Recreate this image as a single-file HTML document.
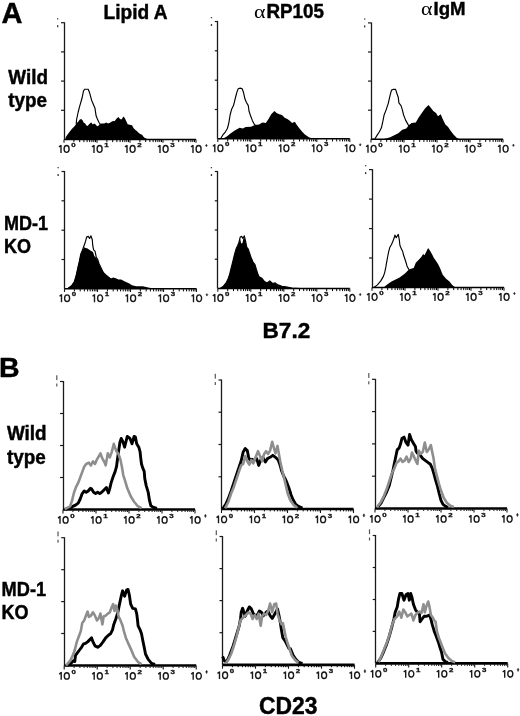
<!DOCTYPE html><html><head><meta charset="utf-8"><style>
html,body{margin:0;padding:0;background:#fff;width:520px;height:716px;overflow:hidden}
svg{display:block;will-change:transform}
text{font-family:"Liberation Sans",sans-serif}
.b{font-weight:bold;fill:#000;stroke:#000;stroke-width:0.45}
.ax{font-size:11.8px;fill:#1a1a1a;stroke:#1a1a1a;stroke-width:0.25}
.sup{font-size:6.2px;font-weight:bold;fill:#111;stroke:#111;stroke-width:0.3}
.g{font-family:"Liberation Serif",serif;fill:#000}
</style></head><body>
<svg width="520" height="716" viewBox="0 0 520 716">
<line x1="64.5" y1="22.2" x2="64.5" y2="139.5" stroke="#1a1a1a" stroke-width="1.3"/>
<line x1="61" y1="22.7" x2="64" y2="22.7" stroke="#1a1a1a" stroke-width="1.2"/>
<line x1="61" y1="51.9" x2="64" y2="51.9" stroke="#1a1a1a" stroke-width="1.2"/>
<line x1="61" y1="81.1" x2="64" y2="81.1" stroke="#1a1a1a" stroke-width="1.2"/>
<line x1="61" y1="110.3" x2="64" y2="110.3" stroke="#1a1a1a" stroke-width="1.2"/>
<line x1="64" y1="139.5" x2="196.0" y2="139.5" stroke="#000" stroke-width="1.4"/>
<path d="M73.9,139.9v2.2 M79.7,139.9v2.2 M83.9,139.9v2.2 M87.1,139.9v2.2 M89.7,139.9v2.2 M91.9,139.9v2.2 M93.8,139.9v2.2 M95.5,139.9v2.2 M106.9,139.9v2.2 M112.7,139.9v2.2 M116.9,139.9v2.2 M120.1,139.9v2.2 M122.7,139.9v2.2 M124.9,139.9v2.2 M126.8,139.9v2.2 M128.5,139.9v2.2 M139.9,139.9v2.2 M145.7,139.9v2.2 M149.9,139.9v2.2 M153.1,139.9v2.2 M155.7,139.9v2.2 M157.9,139.9v2.2 M159.8,139.9v2.2 M161.5,139.9v2.2 M172.9,139.9v2.2 M178.7,139.9v2.2 M182.9,139.9v2.2 M186.1,139.9v2.2 M188.7,139.9v2.2 M190.9,139.9v2.2 M192.8,139.9v2.2 M194.5,139.9v2.2" stroke="#000" stroke-width="1.0" fill="none"/>
<path d="M64.0,139.5v3.3 M97.0,139.5v3.3 M130.0,139.5v3.3 M163.0,139.5v3.3 M196.0,139.5v3.3" stroke="#1a1a1a" stroke-width="1.1" fill="none"/>
<text x="71.3" y="146.8" class="sup" textLength="4.4" lengthAdjust="spacingAndGlyphs">0</text>
<text x="104.3" y="146.8" class="sup" textLength="4.4" lengthAdjust="spacingAndGlyphs">1</text>
<text x="137.3" y="146.8" class="sup" textLength="4.4" lengthAdjust="spacingAndGlyphs">2</text>
<text x="170.3" y="146.8" class="sup" textLength="4.4" lengthAdjust="spacingAndGlyphs">3</text>
<path d="M206.4,144.3l0.9,1.1l-0.9,1.4l-0.9,-1.4z" fill="#222" stroke="#222" stroke-width="0.5"/>
<path d="M61.00,144.90V153.00M61.30,145.20L59.00,146.90 M64.10,148.95a2.5,3.3999999999999972 0 1,0 5.00,0a2.5,3.3999999999999972 0 1,0 -5.00,0 M94.00,144.90V153.00M94.30,145.20L92.00,146.90 M97.10,148.95a2.5,3.3999999999999972 0 1,0 5.00,0a2.5,3.3999999999999972 0 1,0 -5.00,0 M127.00,144.90V153.00M127.30,145.20L125.00,146.90 M130.10,148.95a2.5,3.3999999999999972 0 1,0 5.00,0a2.5,3.3999999999999972 0 1,0 -5.00,0 M160.00,144.90V153.00M160.30,145.20L158.00,146.90 M163.10,148.95a2.5,3.3999999999999972 0 1,0 5.00,0a2.5,3.3999999999999972 0 1,0 -5.00,0 M193.00,144.90V153.00M193.30,145.20L191.00,146.90 M196.10,148.95a2.5,3.3999999999999972 0 1,0 5.00,0a2.5,3.3999999999999972 0 1,0 -5.00,0" stroke="#1a1a1a" stroke-width="1.4" fill="none"/>
<rect x="57" y="18.2" width="1.3" height="1.3" fill="#444"/>
<rect x="57" y="25.2" width="1.3" height="2" fill="#333"/>
<polygon points="65.4,139.5 65.4,139.5 65.8,136.9 68.7,133.1 71.6,129.2 74.5,126.3 76.4,123.5 78.3,121.5 79.8,119.6 81.2,119.1 82.7,120.6 83.6,122.5 85.1,123.5 86.5,125.4 87.5,125.9 88.9,124.4 90.4,123.0 91.3,122.5 92.8,124.4 94.2,123.5 95.7,124.4 97.1,126.3 98.1,125.9 99.5,124.4 101.4,123.5 104.3,123.5 106.2,122.5 108.0,123.5 109.9,122.8 112.3,121.3 114.7,120.9 116.7,118.5 118.4,117.0 120.0,118.9 121.5,119.4 123.4,116.5 124.8,118.0 126.3,121.3 127.7,124.2 129.6,124.7 132.0,125.2 133.5,128.1 134.9,129.5 136.8,131.0 138.8,132.9 140.7,134.3 142.1,134.8 143.1,136.3 144.5,137.7 146.5,138.7 148.4,139.4 149.5,139.5 149.5,139.5" fill="#000"/>
<polyline points="76.2,124.0 76.6,119.5 78.2,112.0 79.5,106.9 82.2,97.5 83.5,90.8 84.9,89.2 88.2,89.2 89.6,92.8 91.6,100.2 93.6,104.9 95.0,108.3 96.1,115.8 97.6,119.6 99.0,122.5 100.0,124.0 102.0,126.0 110.0,130.0 130.0,137.0 140.0,139.5" fill="none" stroke="#000" stroke-width="1.15" stroke-linejoin="round"/>
<line x1="217.5" y1="21.0" x2="217.5" y2="138.8" stroke="#1a1a1a" stroke-width="1.3"/>
<line x1="214.8" y1="21.5" x2="217.8" y2="21.5" stroke="#1a1a1a" stroke-width="1.2"/>
<line x1="214.8" y1="50.8" x2="217.8" y2="50.8" stroke="#1a1a1a" stroke-width="1.2"/>
<line x1="214.8" y1="80.2" x2="217.8" y2="80.2" stroke="#1a1a1a" stroke-width="1.2"/>
<line x1="214.8" y1="109.5" x2="217.8" y2="109.5" stroke="#1a1a1a" stroke-width="1.2"/>
<line x1="217.8" y1="138.8" x2="349.8" y2="138.8" stroke="#000" stroke-width="1.4"/>
<path d="M227.7,139.2v2.2 M233.5,139.2v2.2 M237.7,139.2v2.2 M240.9,139.2v2.2 M243.5,139.2v2.2 M245.7,139.2v2.2 M247.6,139.2v2.2 M249.3,139.2v2.2 M260.7,139.2v2.2 M266.5,139.2v2.2 M270.7,139.2v2.2 M273.9,139.2v2.2 M276.5,139.2v2.2 M278.7,139.2v2.2 M280.6,139.2v2.2 M282.3,139.2v2.2 M293.7,139.2v2.2 M299.5,139.2v2.2 M303.7,139.2v2.2 M306.9,139.2v2.2 M309.5,139.2v2.2 M311.7,139.2v2.2 M313.6,139.2v2.2 M315.3,139.2v2.2 M326.7,139.2v2.2 M332.5,139.2v2.2 M336.7,139.2v2.2 M339.9,139.2v2.2 M342.5,139.2v2.2 M344.7,139.2v2.2 M346.6,139.2v2.2 M348.3,139.2v2.2" stroke="#000" stroke-width="1.0" fill="none"/>
<path d="M217.8,138.8v3.3 M250.8,138.8v3.3 M283.8,138.8v3.3 M316.8,138.8v3.3 M349.8,138.8v3.3" stroke="#1a1a1a" stroke-width="1.1" fill="none"/>
<text x="225.1" y="146.1" class="sup" textLength="4.4" lengthAdjust="spacingAndGlyphs">0</text>
<text x="258.1" y="146.1" class="sup" textLength="4.4" lengthAdjust="spacingAndGlyphs">1</text>
<text x="291.1" y="146.1" class="sup" textLength="4.4" lengthAdjust="spacingAndGlyphs">2</text>
<text x="324.1" y="146.1" class="sup" textLength="4.4" lengthAdjust="spacingAndGlyphs">3</text>
<path d="M360.2,143.6l0.9,1.1l-0.9,1.4l-0.9,-1.4z" fill="#222" stroke="#222" stroke-width="0.5"/>
<path d="M214.80,144.20V152.30M215.10,144.50L212.80,146.20 M217.90,148.25a2.5,3.3999999999999972 0 1,0 5.00,0a2.5,3.3999999999999972 0 1,0 -5.00,0 M247.80,144.20V152.30M248.10,144.50L245.80,146.20 M250.90,148.25a2.5,3.3999999999999972 0 1,0 5.00,0a2.5,3.3999999999999972 0 1,0 -5.00,0 M280.80,144.20V152.30M281.10,144.50L278.80,146.20 M283.90,148.25a2.5,3.3999999999999972 0 1,0 5.00,0a2.5,3.3999999999999972 0 1,0 -5.00,0 M313.80,144.20V152.30M314.10,144.50L311.80,146.20 M316.90,148.25a2.5,3.3999999999999972 0 1,0 5.00,0a2.5,3.3999999999999972 0 1,0 -5.00,0 M346.80,144.20V152.30M347.10,144.50L344.80,146.20 M349.90,148.25a2.5,3.3999999999999972 0 1,0 5.00,0a2.5,3.3999999999999972 0 1,0 -5.00,0" stroke="#1a1a1a" stroke-width="1.4" fill="none"/>
<rect x="210.8" y="17.0" width="1.3" height="1.3" fill="#444"/>
<rect x="210.8" y="24.0" width="1.3" height="2" fill="#333"/>
<polygon points="222.7,138.8 222.7,138.8 226.8,136.5 230.8,133.2 234.8,130.5 239.6,127.8 242.9,128.5 245.6,127.1 251.0,126.8 255.0,125.1 259.1,124.4 262.4,122.4 265.8,123.1 268.5,119.0 271.2,114.3 274.5,111.0 276.6,113.0 279.3,114.3 282.0,115.0 284.7,117.7 287.4,119.0 290.1,121.0 292.1,123.1 294.8,121.7 296.8,125.1 299.5,128.5 302.2,131.8 304.9,134.5 308.9,137.2 313.0,138.8 313.0,138.8" fill="#000"/>
<polyline points="219.0,138.8 220.7,138.5 222.7,135.2 225.4,131.8 227.4,128.5 228.8,123.1 230.1,115.0 231.5,109.6 233.5,105.6 235.5,97.5 236.9,92.1 238.2,88.7 240.2,88.1 242.2,88.7 243.6,92.8 244.9,98.8 246.3,102.2 248.3,105.6 249.0,111.0 250.3,115.0 252.3,120.4 254.4,124.4 256.0,126.0 262.0,130.0 280.0,136.0 300.0,138.8" fill="none" stroke="#000" stroke-width="1.15" stroke-linejoin="round"/>
<line x1="371.5" y1="22.4" x2="371.5" y2="139.3" stroke="#1a1a1a" stroke-width="1.3"/>
<line x1="368" y1="22.9" x2="371" y2="22.9" stroke="#1a1a1a" stroke-width="1.2"/>
<line x1="368" y1="52.0" x2="371" y2="52.0" stroke="#1a1a1a" stroke-width="1.2"/>
<line x1="368" y1="81.1" x2="371" y2="81.1" stroke="#1a1a1a" stroke-width="1.2"/>
<line x1="368" y1="110.2" x2="371" y2="110.2" stroke="#1a1a1a" stroke-width="1.2"/>
<line x1="371" y1="139.3" x2="503.0" y2="139.3" stroke="#000" stroke-width="1.4"/>
<path d="M380.9,139.7v2.2 M386.7,139.7v2.2 M390.9,139.7v2.2 M394.1,139.7v2.2 M396.7,139.7v2.2 M398.9,139.7v2.2 M400.8,139.7v2.2 M402.5,139.7v2.2 M413.9,139.7v2.2 M419.7,139.7v2.2 M423.9,139.7v2.2 M427.1,139.7v2.2 M429.7,139.7v2.2 M431.9,139.7v2.2 M433.8,139.7v2.2 M435.5,139.7v2.2 M446.9,139.7v2.2 M452.7,139.7v2.2 M456.9,139.7v2.2 M460.1,139.7v2.2 M462.7,139.7v2.2 M464.9,139.7v2.2 M466.8,139.7v2.2 M468.5,139.7v2.2 M479.9,139.7v2.2 M485.7,139.7v2.2 M489.9,139.7v2.2 M493.1,139.7v2.2 M495.7,139.7v2.2 M497.9,139.7v2.2 M499.8,139.7v2.2 M501.5,139.7v2.2" stroke="#000" stroke-width="1.0" fill="none"/>
<path d="M371.0,139.3v3.3 M404.0,139.3v3.3 M437.0,139.3v3.3 M470.0,139.3v3.3 M503.0,139.3v3.3" stroke="#1a1a1a" stroke-width="1.1" fill="none"/>
<text x="378.3" y="146.6" class="sup" textLength="4.4" lengthAdjust="spacingAndGlyphs">0</text>
<text x="411.3" y="146.6" class="sup" textLength="4.4" lengthAdjust="spacingAndGlyphs">1</text>
<text x="444.3" y="146.6" class="sup" textLength="4.4" lengthAdjust="spacingAndGlyphs">2</text>
<text x="477.3" y="146.6" class="sup" textLength="4.4" lengthAdjust="spacingAndGlyphs">3</text>
<path d="M513.4,144.1l0.9,1.1l-0.9,1.4l-0.9,-1.4z" fill="#222" stroke="#222" stroke-width="0.5"/>
<path d="M368.00,144.70V152.80M368.30,145.00L366.00,146.70 M371.10,148.75a2.5,3.3999999999999972 0 1,0 5.00,0a2.5,3.3999999999999972 0 1,0 -5.00,0 M401.00,144.70V152.80M401.30,145.00L399.00,146.70 M404.10,148.75a2.5,3.3999999999999972 0 1,0 5.00,0a2.5,3.3999999999999972 0 1,0 -5.00,0 M434.00,144.70V152.80M434.30,145.00L432.00,146.70 M437.10,148.75a2.5,3.3999999999999972 0 1,0 5.00,0a2.5,3.3999999999999972 0 1,0 -5.00,0 M467.00,144.70V152.80M467.30,145.00L465.00,146.70 M470.10,148.75a2.5,3.3999999999999972 0 1,0 5.00,0a2.5,3.3999999999999972 0 1,0 -5.00,0 M500.00,144.70V152.80M500.30,145.00L498.00,146.70 M503.10,148.75a2.5,3.3999999999999972 0 1,0 5.00,0a2.5,3.3999999999999972 0 1,0 -5.00,0" stroke="#1a1a1a" stroke-width="1.4" fill="none"/>
<rect x="364" y="18.4" width="1.3" height="1.3" fill="#444"/>
<rect x="364" y="25.4" width="1.3" height="2" fill="#333"/>
<polygon points="382.1,139.3 382.1,139.3 386.2,138.5 390.2,137.2 394.2,135.2 398.3,133.2 402.3,129.8 406.3,128.5 409.0,125.1 411.7,123.1 415.8,122.4 418.5,117.7 421.8,113.0 425.2,108.3 428.5,104.9 430.6,107.6 433.3,111.0 436.0,113.0 438.0,116.3 440.7,114.3 442.7,119.0 445.4,124.4 448.1,127.1 450.8,131.1 453.5,134.5 456.9,137.9 460.2,139.3 460.2,139.3" fill="#000"/>
<polyline points="372.0,139.3 374.7,139.2 376.7,135.9 379.4,131.8 381.4,127.8 382.8,121.7 384.1,115.0 386.2,109.6 388.2,103.6 390.2,94.8 391.5,90.1 393.6,89.2 395.6,89.4 396.9,93.5 398.3,97.5 398.9,102.9 401.0,105.6 402.3,109.6 403.6,115.0 405.7,120.4 408.4,125.1 412.0,130.0 420.0,135.0 440.0,139.3" fill="none" stroke="#000" stroke-width="1.15" stroke-linejoin="round"/>
<line x1="64.5" y1="171.0" x2="64.5" y2="288.8" stroke="#1a1a1a" stroke-width="1.3"/>
<line x1="61.5" y1="171.5" x2="64.5" y2="171.5" stroke="#1a1a1a" stroke-width="1.2"/>
<line x1="61.5" y1="200.8" x2="64.5" y2="200.8" stroke="#1a1a1a" stroke-width="1.2"/>
<line x1="61.5" y1="230.2" x2="64.5" y2="230.2" stroke="#1a1a1a" stroke-width="1.2"/>
<line x1="61.5" y1="259.5" x2="64.5" y2="259.5" stroke="#1a1a1a" stroke-width="1.2"/>
<line x1="64.5" y1="288.8" x2="196.5" y2="288.8" stroke="#000" stroke-width="1.4"/>
<path d="M74.4,289.2v2.2 M80.2,289.2v2.2 M84.4,289.2v2.2 M87.6,289.2v2.2 M90.2,289.2v2.2 M92.4,289.2v2.2 M94.3,289.2v2.2 M96.0,289.2v2.2 M107.4,289.2v2.2 M113.2,289.2v2.2 M117.4,289.2v2.2 M120.6,289.2v2.2 M123.2,289.2v2.2 M125.4,289.2v2.2 M127.3,289.2v2.2 M129.0,289.2v2.2 M140.4,289.2v2.2 M146.2,289.2v2.2 M150.4,289.2v2.2 M153.6,289.2v2.2 M156.2,289.2v2.2 M158.4,289.2v2.2 M160.3,289.2v2.2 M162.0,289.2v2.2 M173.4,289.2v2.2 M179.2,289.2v2.2 M183.4,289.2v2.2 M186.6,289.2v2.2 M189.2,289.2v2.2 M191.4,289.2v2.2 M193.3,289.2v2.2 M195.0,289.2v2.2" stroke="#000" stroke-width="1.0" fill="none"/>
<path d="M64.5,288.8v3.3 M97.5,288.8v3.3 M130.5,288.8v3.3 M163.5,288.8v3.3 M196.5,288.8v3.3" stroke="#1a1a1a" stroke-width="1.1" fill="none"/>
<text x="71.8" y="296.1" class="sup" textLength="4.4" lengthAdjust="spacingAndGlyphs">0</text>
<text x="104.8" y="296.1" class="sup" textLength="4.4" lengthAdjust="spacingAndGlyphs">1</text>
<text x="137.8" y="296.1" class="sup" textLength="4.4" lengthAdjust="spacingAndGlyphs">2</text>
<text x="170.8" y="296.1" class="sup" textLength="4.4" lengthAdjust="spacingAndGlyphs">3</text>
<path d="M206.9,293.6l0.9,1.1l-0.9,1.4l-0.9,-1.4z" fill="#222" stroke="#222" stroke-width="0.5"/>
<path d="M61.50,294.20V302.30M61.80,294.50L59.50,296.20 M64.60,298.25a2.5,3.4000000000000115 0 1,0 5.00,0a2.5,3.4000000000000115 0 1,0 -5.00,0 M94.50,294.20V302.30M94.80,294.50L92.50,296.20 M97.60,298.25a2.5,3.4000000000000115 0 1,0 5.00,0a2.5,3.4000000000000115 0 1,0 -5.00,0 M127.50,294.20V302.30M127.80,294.50L125.50,296.20 M130.60,298.25a2.5,3.4000000000000115 0 1,0 5.00,0a2.5,3.4000000000000115 0 1,0 -5.00,0 M160.50,294.20V302.30M160.80,294.50L158.50,296.20 M163.60,298.25a2.5,3.4000000000000115 0 1,0 5.00,0a2.5,3.4000000000000115 0 1,0 -5.00,0 M193.50,294.20V302.30M193.80,294.50L191.50,296.20 M196.60,298.25a2.5,3.4000000000000115 0 1,0 5.00,0a2.5,3.4000000000000115 0 1,0 -5.00,0" stroke="#1a1a1a" stroke-width="1.4" fill="none"/>
<rect x="57.5" y="167.0" width="1.3" height="1.3" fill="#444"/>
<rect x="57.5" y="174.0" width="1.3" height="2" fill="#333"/>
<polygon points="66.0,288.8 66.0,288.8 67.4,288.3 71.4,285.6 74.1,281.5 76.1,274.8 77.5,268.1 78.8,262.7 80.2,256.0 81.5,251.9 82.9,249.2 84.2,247.2 85.6,247.9 87.6,248.6 89.6,249.9 91.6,251.2 93.0,251.9 94.3,256.0 96.3,258.0 97.7,260.0 99.0,263.4 100.4,266.7 102.4,270.8 105.1,273.5 107.8,276.1 110.5,278.8 113.1,277.5 115.8,278.2 118.5,279.5 121.2,279.5 123.9,280.9 126.6,282.2 129.3,283.5 132.0,285.2 136.1,286.2 142.8,286.2 148.2,287.6 154.9,288.8 154.9,288.8" fill="#000"/>
<polyline points="67.6,288.8 71.6,285.8 74.3,281.8 76.3,275.0 77.7,268.3 79.0,263.0 80.8,253.9 82.2,250.6 84.2,245.2 85.6,241.2 86.6,237.1 88.2,236.4 89.6,238.5 90.9,235.8 92.3,239.8 92.7,245.2 93.6,249.9 95.0,251.2 95.6,253.9 96.3,257.3 97.7,259.3 99.0,263.4 104.0,274.0 115.0,282.0 130.0,287.0 140.0,288.8" fill="none" stroke="#000" stroke-width="1.15" stroke-linejoin="round"/>
<line x1="217.5" y1="171.0" x2="217.5" y2="288.5" stroke="#1a1a1a" stroke-width="1.3"/>
<line x1="214.8" y1="171.5" x2="217.8" y2="171.5" stroke="#1a1a1a" stroke-width="1.2"/>
<line x1="214.8" y1="200.8" x2="217.8" y2="200.8" stroke="#1a1a1a" stroke-width="1.2"/>
<line x1="214.8" y1="230.0" x2="217.8" y2="230.0" stroke="#1a1a1a" stroke-width="1.2"/>
<line x1="214.8" y1="259.2" x2="217.8" y2="259.2" stroke="#1a1a1a" stroke-width="1.2"/>
<line x1="217.8" y1="288.5" x2="349.8" y2="288.5" stroke="#000" stroke-width="1.4"/>
<path d="M227.7,288.9v2.2 M233.5,288.9v2.2 M237.7,288.9v2.2 M240.9,288.9v2.2 M243.5,288.9v2.2 M245.7,288.9v2.2 M247.6,288.9v2.2 M249.3,288.9v2.2 M260.7,288.9v2.2 M266.5,288.9v2.2 M270.7,288.9v2.2 M273.9,288.9v2.2 M276.5,288.9v2.2 M278.7,288.9v2.2 M280.6,288.9v2.2 M282.3,288.9v2.2 M293.7,288.9v2.2 M299.5,288.9v2.2 M303.7,288.9v2.2 M306.9,288.9v2.2 M309.5,288.9v2.2 M311.7,288.9v2.2 M313.6,288.9v2.2 M315.3,288.9v2.2 M326.7,288.9v2.2 M332.5,288.9v2.2 M336.7,288.9v2.2 M339.9,288.9v2.2 M342.5,288.9v2.2 M344.7,288.9v2.2 M346.6,288.9v2.2 M348.3,288.9v2.2" stroke="#000" stroke-width="1.0" fill="none"/>
<path d="M217.8,288.5v3.3 M250.8,288.5v3.3 M283.8,288.5v3.3 M316.8,288.5v3.3 M349.8,288.5v3.3" stroke="#1a1a1a" stroke-width="1.1" fill="none"/>
<text x="225.1" y="295.8" class="sup" textLength="4.4" lengthAdjust="spacingAndGlyphs">0</text>
<text x="258.1" y="295.8" class="sup" textLength="4.4" lengthAdjust="spacingAndGlyphs">1</text>
<text x="291.1" y="295.8" class="sup" textLength="4.4" lengthAdjust="spacingAndGlyphs">2</text>
<text x="324.1" y="295.8" class="sup" textLength="4.4" lengthAdjust="spacingAndGlyphs">3</text>
<path d="M360.2,293.3l0.9,1.1l-0.9,1.4l-0.9,-1.4z" fill="#222" stroke="#222" stroke-width="0.5"/>
<path d="M214.80,293.90V302.00M215.10,294.20L212.80,295.90 M217.90,297.95a2.5,3.4000000000000115 0 1,0 5.00,0a2.5,3.4000000000000115 0 1,0 -5.00,0 M247.80,293.90V302.00M248.10,294.20L245.80,295.90 M250.90,297.95a2.5,3.4000000000000115 0 1,0 5.00,0a2.5,3.4000000000000115 0 1,0 -5.00,0 M280.80,293.90V302.00M281.10,294.20L278.80,295.90 M283.90,297.95a2.5,3.4000000000000115 0 1,0 5.00,0a2.5,3.4000000000000115 0 1,0 -5.00,0 M313.80,293.90V302.00M314.10,294.20L311.80,295.90 M316.90,297.95a2.5,3.4000000000000115 0 1,0 5.00,0a2.5,3.4000000000000115 0 1,0 -5.00,0 M346.80,293.90V302.00M347.10,294.20L344.80,295.90 M349.90,297.95a2.5,3.4000000000000115 0 1,0 5.00,0a2.5,3.4000000000000115 0 1,0 -5.00,0" stroke="#1a1a1a" stroke-width="1.4" fill="none"/>
<rect x="210.8" y="167.0" width="1.3" height="1.3" fill="#444"/>
<rect x="210.8" y="174.0" width="1.3" height="2" fill="#333"/>
<polygon points="220.0,288.5 220.0,288.5 223.4,286.2 226.1,282.9 228.1,278.8 229.5,274.8 230.8,269.4 232.2,264.0 233.5,258.6 234.8,253.3 236.2,248.6 237.5,245.9 238.9,242.5 240.2,239.0 241.2,243.5 242.5,243.0 243.2,239.0 244.3,237.5 245.6,241.2 246.7,247.2 248.3,249.2 249.6,253.3 251.0,257.3 253.0,262.0 255.0,264.7 256.4,269.4 257.7,273.5 259.1,276.8 261.8,278.2 264.5,281.5 267.1,282.9 269.8,280.9 272.5,283.5 275.2,282.9 277.9,284.9 282.0,286.2 286.0,286.9 292.0,288.0 300.0,288.5 300.0,288.5" fill="#000"/>
<polyline points="220.0,288.5 223.4,286.2 226.1,282.9 228.1,278.8 229.5,274.8 230.8,269.4 232.2,264.0 233.5,258.6 234.8,253.3 236.2,248.6 237.5,245.9 238.9,242.5 240.2,237.1 241.8,236.4 242.9,238.5 244.3,235.8 245.6,241.2 246.7,247.2 248.3,249.2 249.6,253.3 251.0,257.3 253.0,262.0 255.0,264.7 256.4,269.4 257.7,273.5 259.1,276.8 261.8,278.2 264.5,281.5 267.1,282.9 269.8,280.9 272.5,283.5 275.2,282.9 277.9,284.9 282.0,286.2 286.0,286.9 292.0,288.0 300.0,288.5" fill="none" stroke="#000" stroke-width="1.15" stroke-linejoin="round"/>
<line x1="372.5" y1="169.1" x2="372.5" y2="287.5" stroke="#1a1a1a" stroke-width="1.3"/>
<line x1="369" y1="169.6" x2="372" y2="169.6" stroke="#1a1a1a" stroke-width="1.2"/>
<line x1="369" y1="199.1" x2="372" y2="199.1" stroke="#1a1a1a" stroke-width="1.2"/>
<line x1="369" y1="228.6" x2="372" y2="228.6" stroke="#1a1a1a" stroke-width="1.2"/>
<line x1="369" y1="258.0" x2="372" y2="258.0" stroke="#1a1a1a" stroke-width="1.2"/>
<line x1="372" y1="287.5" x2="504.0" y2="287.5" stroke="#000" stroke-width="1.4"/>
<path d="M381.9,287.9v2.2 M387.7,287.9v2.2 M391.9,287.9v2.2 M395.1,287.9v2.2 M397.7,287.9v2.2 M399.9,287.9v2.2 M401.8,287.9v2.2 M403.5,287.9v2.2 M414.9,287.9v2.2 M420.7,287.9v2.2 M424.9,287.9v2.2 M428.1,287.9v2.2 M430.7,287.9v2.2 M432.9,287.9v2.2 M434.8,287.9v2.2 M436.5,287.9v2.2 M447.9,287.9v2.2 M453.7,287.9v2.2 M457.9,287.9v2.2 M461.1,287.9v2.2 M463.7,287.9v2.2 M465.9,287.9v2.2 M467.8,287.9v2.2 M469.5,287.9v2.2 M480.9,287.9v2.2 M486.7,287.9v2.2 M490.9,287.9v2.2 M494.1,287.9v2.2 M496.7,287.9v2.2 M498.9,287.9v2.2 M500.8,287.9v2.2 M502.5,287.9v2.2" stroke="#000" stroke-width="1.0" fill="none"/>
<path d="M372.0,287.5v3.3 M405.0,287.5v3.3 M438.0,287.5v3.3 M471.0,287.5v3.3 M504.0,287.5v3.3" stroke="#1a1a1a" stroke-width="1.1" fill="none"/>
<text x="379.3" y="294.8" class="sup" textLength="4.4" lengthAdjust="spacingAndGlyphs">0</text>
<text x="412.3" y="294.8" class="sup" textLength="4.4" lengthAdjust="spacingAndGlyphs">1</text>
<text x="445.3" y="294.8" class="sup" textLength="4.4" lengthAdjust="spacingAndGlyphs">2</text>
<text x="478.3" y="294.8" class="sup" textLength="4.4" lengthAdjust="spacingAndGlyphs">3</text>
<path d="M514.4,292.3l0.9,1.1l-0.9,1.4l-0.9,-1.4z" fill="#222" stroke="#222" stroke-width="0.5"/>
<path d="M369.00,292.90V301.00M369.30,293.20L367.00,294.90 M372.10,296.95a2.5,3.4000000000000115 0 1,0 5.00,0a2.5,3.4000000000000115 0 1,0 -5.00,0 M402.00,292.90V301.00M402.30,293.20L400.00,294.90 M405.10,296.95a2.5,3.4000000000000115 0 1,0 5.00,0a2.5,3.4000000000000115 0 1,0 -5.00,0 M435.00,292.90V301.00M435.30,293.20L433.00,294.90 M438.10,296.95a2.5,3.4000000000000115 0 1,0 5.00,0a2.5,3.4000000000000115 0 1,0 -5.00,0 M468.00,292.90V301.00M468.30,293.20L466.00,294.90 M471.10,296.95a2.5,3.4000000000000115 0 1,0 5.00,0a2.5,3.4000000000000115 0 1,0 -5.00,0 M501.00,292.90V301.00M501.30,293.20L499.00,294.90 M504.10,296.95a2.5,3.4000000000000115 0 1,0 5.00,0a2.5,3.4000000000000115 0 1,0 -5.00,0" stroke="#1a1a1a" stroke-width="1.4" fill="none"/>
<rect x="365" y="165.1" width="1.3" height="1.3" fill="#444"/>
<rect x="365" y="172.1" width="1.3" height="2" fill="#333"/>
<polygon points="383.5,287.5 383.5,287.5 387.5,284.2 391.5,281.5 395.6,279.5 399.6,277.5 402.3,275.5 405.0,273.5 408.4,270.1 411.0,268.7 413.7,268.1 415.8,262.7 418.5,260.0 421.1,257.3 423.2,253.9 424.5,255.3 426.5,251.2 428.1,247.9 429.9,250.6 431.9,253.9 433.9,258.0 435.9,260.7 438.0,264.0 440.0,268.1 442.7,274.8 446.1,278.8 449.5,281.5 452.2,284.9 454.8,286.9 456.0,287.5 456.0,287.5" fill="#000"/>
<polyline points="374.0,287.5 377.4,284.9 380.8,280.9 383.5,276.1 384.8,272.1 385.9,266.7 386.8,261.3 387.8,256.0 388.8,251.2 389.9,247.2 391.5,244.5 392.9,241.2 394.2,237.8 394.9,235.1 396.2,237.8 398.3,234.4 399.3,239.8 399.9,245.2 401.2,248.6 402.6,251.2 403.6,255.3 405.0,259.3 406.1,262.7 407.0,266.0 408.4,268.7 410.0,271.0 420.0,280.0 440.0,287.5" fill="none" stroke="#000" stroke-width="1.15" stroke-linejoin="round"/>
<line x1="63.5" y1="381.0" x2="63.5" y2="509.5" stroke="#1a1a1a" stroke-width="1.3"/>
<line x1="60" y1="381.5" x2="63" y2="381.5" stroke="#1a1a1a" stroke-width="1.2"/>
<line x1="60" y1="413.5" x2="63" y2="413.5" stroke="#1a1a1a" stroke-width="1.2"/>
<line x1="60" y1="445.5" x2="63" y2="445.5" stroke="#1a1a1a" stroke-width="1.2"/>
<line x1="60" y1="477.5" x2="63" y2="477.5" stroke="#1a1a1a" stroke-width="1.2"/>
<line x1="63" y1="509.5" x2="195.0" y2="509.5" stroke="#000" stroke-width="2.7"/>
<path d="M72.9,510.6v1.3 M78.7,510.6v1.3 M82.9,510.6v1.3 M86.1,510.6v1.3 M88.7,510.6v1.3 M90.9,510.6v1.3 M92.8,510.6v1.3 M94.5,510.6v1.3 M105.9,510.6v1.3 M111.7,510.6v1.3 M115.9,510.6v1.3 M119.1,510.6v1.3 M121.7,510.6v1.3 M123.9,510.6v1.3 M125.8,510.6v1.3 M127.5,510.6v1.3 M138.9,510.6v1.3 M144.7,510.6v1.3 M148.9,510.6v1.3 M152.1,510.6v1.3 M154.7,510.6v1.3 M156.9,510.6v1.3 M158.8,510.6v1.3 M160.5,510.6v1.3 M171.9,510.6v1.3 M177.7,510.6v1.3 M181.9,510.6v1.3 M185.1,510.6v1.3 M187.7,510.6v1.3 M189.9,510.6v1.3 M191.8,510.6v1.3 M193.5,510.6v1.3" stroke="#000" stroke-width="1.0" fill="none"/>
<path d="M63.0,509.5v4.0 M96.0,509.5v4.0 M129.0,509.5v4.0 M162.0,509.5v4.0 M195.0,509.5v4.0" stroke="#1a1a1a" stroke-width="1.1" fill="none"/>
<text x="70.3" y="518.1" class="sup" textLength="4.4" lengthAdjust="spacingAndGlyphs">0</text>
<text x="103.3" y="518.1" class="sup" textLength="4.4" lengthAdjust="spacingAndGlyphs">1</text>
<text x="136.3" y="518.1" class="sup" textLength="4.4" lengthAdjust="spacingAndGlyphs">2</text>
<text x="169.3" y="518.1" class="sup" textLength="4.4" lengthAdjust="spacingAndGlyphs">3</text>
<path d="M205.4,514.3l0.9,1.5l-0.9,1.8l-0.9,-1.8z" fill="#222" stroke="#222" stroke-width="0.5"/>
<path d="M60.00,516.10V523.80M60.30,516.40L58.00,518.10 M63.10,519.95a2.5,3.199999999999966 0 1,0 5.00,0a2.5,3.199999999999966 0 1,0 -5.00,0 M93.00,516.10V523.80M93.30,516.40L91.00,518.10 M96.10,519.95a2.5,3.199999999999966 0 1,0 5.00,0a2.5,3.199999999999966 0 1,0 -5.00,0 M126.00,516.10V523.80M126.30,516.40L124.00,518.10 M129.10,519.95a2.5,3.199999999999966 0 1,0 5.00,0a2.5,3.199999999999966 0 1,0 -5.00,0 M159.00,516.10V523.80M159.30,516.40L157.00,518.10 M162.10,519.95a2.5,3.199999999999966 0 1,0 5.00,0a2.5,3.199999999999966 0 1,0 -5.00,0 M192.00,516.10V523.80M192.30,516.40L190.00,518.10 M195.10,519.95a2.5,3.199999999999966 0 1,0 5.00,0a2.5,3.199999999999966 0 1,0 -5.00,0" stroke="#1a1a1a" stroke-width="1.4" fill="none"/>
<rect x="56.2" y="375.3" width="1.2" height="4.8" fill="#555"/>
<rect x="56.2" y="383.5" width="1.2" height="3" fill="#555"/>
<polyline points="64.7,509.1 70.1,508.4 72.8,506.4 75.5,505.1 78.2,503.1 80.2,499.0 82.2,493.6 84.2,491.0 86.2,492.3 88.2,491.0 90.3,488.3 91.6,488.9 93.6,492.3 95.6,493.6 97.7,492.3 99.7,493.6 101.7,492.3 103.7,490.3 106.4,487.6 108.4,493.0 109.8,488.3 111.1,482.9 113.1,476.8 115.2,471.4 116.5,466.7 117.2,461.3 118.5,451.9 119.9,442.5 121.2,438.5 123.2,442.5 124.6,447.2 125.9,441.8 127.3,436.4 130.0,438.5 132.0,443.8 134.1,436.4 135.4,437.1 136.7,443.8 138.8,447.2 140.1,451.9 140.8,458.6 141.5,464.0 142.8,468.1 144.2,471.4 144.8,478.8 146.2,485.6 148.2,492.3 149.5,500.4 150.9,505.8 153.6,507.4 156.9,508.5" fill="none" stroke="#000" stroke-width="2.9" stroke-linejoin="round"/>
<polyline points="64.7,509.1 70.1,506.4 72.1,500.4 74.1,492.3 76.1,486.9 78.2,482.9 80.2,477.5 82.2,472.1 84.2,466.7 86.2,464.0 88.9,462.7 90.9,465.4 93.0,461.3 95.0,464.0 97.0,459.3 99.0,456.0 100.4,453.3 102.4,458.6 104.4,462.0 105.7,465.4 107.8,453.3 109.8,457.3 111.8,451.9 113.8,443.8 115.2,447.9 116.5,451.2 118.5,453.9 120.5,460.0 121.9,466.7 123.2,474.8 125.3,481.5 127.3,488.3 128.5,491.0 130.7,496.3 134.1,501.7 137.4,505.8 141.5,508.2" fill="none" stroke="#8e8e8e" stroke-width="2.6" stroke-linejoin="round"/>
<line x1="221.5" y1="379.5" x2="221.5" y2="509" stroke="#1a1a1a" stroke-width="1.3"/>
<line x1="218.5" y1="380.0" x2="221.5" y2="380.0" stroke="#1a1a1a" stroke-width="1.2"/>
<line x1="218.5" y1="412.2" x2="221.5" y2="412.2" stroke="#1a1a1a" stroke-width="1.2"/>
<line x1="218.5" y1="444.5" x2="221.5" y2="444.5" stroke="#1a1a1a" stroke-width="1.2"/>
<line x1="218.5" y1="476.8" x2="221.5" y2="476.8" stroke="#1a1a1a" stroke-width="1.2"/>
<line x1="221.5" y1="509" x2="353.5" y2="509" stroke="#000" stroke-width="2.7"/>
<path d="M231.4,510.1v1.3 M237.2,510.1v1.3 M241.4,510.1v1.3 M244.6,510.1v1.3 M247.2,510.1v1.3 M249.4,510.1v1.3 M251.3,510.1v1.3 M253.0,510.1v1.3 M264.4,510.1v1.3 M270.2,510.1v1.3 M274.4,510.1v1.3 M277.6,510.1v1.3 M280.2,510.1v1.3 M282.4,510.1v1.3 M284.3,510.1v1.3 M286.0,510.1v1.3 M297.4,510.1v1.3 M303.2,510.1v1.3 M307.4,510.1v1.3 M310.6,510.1v1.3 M313.2,510.1v1.3 M315.4,510.1v1.3 M317.3,510.1v1.3 M319.0,510.1v1.3 M330.4,510.1v1.3 M336.2,510.1v1.3 M340.4,510.1v1.3 M343.6,510.1v1.3 M346.2,510.1v1.3 M348.4,510.1v1.3 M350.3,510.1v1.3 M352.0,510.1v1.3" stroke="#000" stroke-width="1.0" fill="none"/>
<path d="M221.5,509.0v4.0 M254.5,509.0v4.0 M287.5,509.0v4.0 M320.5,509.0v4.0 M353.5,509.0v4.0" stroke="#1a1a1a" stroke-width="1.1" fill="none"/>
<text x="228.8" y="517.6" class="sup" textLength="4.4" lengthAdjust="spacingAndGlyphs">0</text>
<text x="261.8" y="517.6" class="sup" textLength="4.4" lengthAdjust="spacingAndGlyphs">1</text>
<text x="294.8" y="517.6" class="sup" textLength="4.4" lengthAdjust="spacingAndGlyphs">2</text>
<text x="327.8" y="517.6" class="sup" textLength="4.4" lengthAdjust="spacingAndGlyphs">3</text>
<path d="M363.9,513.8l0.9,1.5l-0.9,1.8l-0.9,-1.8z" fill="#222" stroke="#222" stroke-width="0.5"/>
<path d="M218.50,515.60V523.30M218.80,515.90L216.50,517.60 M221.60,519.45a2.5,3.199999999999966 0 1,0 5.00,0a2.5,3.199999999999966 0 1,0 -5.00,0 M251.50,515.60V523.30M251.80,515.90L249.50,517.60 M254.60,519.45a2.5,3.199999999999966 0 1,0 5.00,0a2.5,3.199999999999966 0 1,0 -5.00,0 M284.50,515.60V523.30M284.80,515.90L282.50,517.60 M287.60,519.45a2.5,3.199999999999966 0 1,0 5.00,0a2.5,3.199999999999966 0 1,0 -5.00,0 M317.50,515.60V523.30M317.80,515.90L315.50,517.60 M320.60,519.45a2.5,3.199999999999966 0 1,0 5.00,0a2.5,3.199999999999966 0 1,0 -5.00,0 M350.50,515.60V523.30M350.80,515.90L348.50,517.60 M353.60,519.45a2.5,3.199999999999966 0 1,0 5.00,0a2.5,3.199999999999966 0 1,0 -5.00,0" stroke="#1a1a1a" stroke-width="1.4" fill="none"/>
<rect x="214.7" y="373.8" width="1.2" height="4.8" fill="#555"/>
<rect x="214.7" y="382" width="1.2" height="3" fill="#555"/>
<polyline points="223.0,508.4 225.7,504.4 228.4,498.4 231.1,491.0 233.8,482.9 236.5,474.8 239.2,466.7 241.2,460.7 243.2,451.9 245.2,448.6 247.3,450.6 248.6,457.3 250.0,460.0 252.0,459.3 254.0,460.7 256.7,458.6 258.7,465.4 260.7,460.0 262.7,457.3 265.4,462.0 267.5,458.6 270.1,457.3 272.8,455.3 275.5,457.3 278.2,460.0 280.2,465.4 281.6,470.8 283.6,476.1 285.6,479.5 287.0,482.9 289.0,488.3 291.1,495.0 293.1,499.7 295.8,504.4 298.5,506.4 302.5,508.0" fill="none" stroke="#000" stroke-width="2.9" stroke-linejoin="round"/>
<polyline points="225.1,508.4 228.4,501.7 231.1,493.6 233.8,486.9 236.5,478.8 239.2,470.8 241.2,465.4 243.2,464.0 245.2,456.0 247.3,461.3 249.3,464.7 251.3,460.0 253.3,463.4 255.3,458.0 258.0,451.2 260.0,456.0 262.1,461.3 264.1,453.9 266.1,451.2 268.1,453.9 270.1,450.6 272.2,441.8 273.5,446.5 275.5,453.3 277.5,445.9 278.9,453.9 280.2,461.3 282.3,470.8 283.6,476.1 285.3,483.0 287.7,493.6 290.4,500.4 293.7,505.1 297.1,507.5" fill="none" stroke="#8e8e8e" stroke-width="2.6" stroke-linejoin="round"/>
<line x1="375.5" y1="378.8" x2="375.5" y2="508.5" stroke="#1a1a1a" stroke-width="1.3"/>
<line x1="372" y1="379.3" x2="375" y2="379.3" stroke="#1a1a1a" stroke-width="1.2"/>
<line x1="372" y1="411.6" x2="375" y2="411.6" stroke="#1a1a1a" stroke-width="1.2"/>
<line x1="372" y1="443.9" x2="375" y2="443.9" stroke="#1a1a1a" stroke-width="1.2"/>
<line x1="372" y1="476.2" x2="375" y2="476.2" stroke="#1a1a1a" stroke-width="1.2"/>
<line x1="375" y1="508.5" x2="507.0" y2="508.5" stroke="#000" stroke-width="2.7"/>
<path d="M384.9,509.6v1.3 M390.7,509.6v1.3 M394.9,509.6v1.3 M398.1,509.6v1.3 M400.7,509.6v1.3 M402.9,509.6v1.3 M404.8,509.6v1.3 M406.5,509.6v1.3 M417.9,509.6v1.3 M423.7,509.6v1.3 M427.9,509.6v1.3 M431.1,509.6v1.3 M433.7,509.6v1.3 M435.9,509.6v1.3 M437.8,509.6v1.3 M439.5,509.6v1.3 M450.9,509.6v1.3 M456.7,509.6v1.3 M460.9,509.6v1.3 M464.1,509.6v1.3 M466.7,509.6v1.3 M468.9,509.6v1.3 M470.8,509.6v1.3 M472.5,509.6v1.3 M483.9,509.6v1.3 M489.7,509.6v1.3 M493.9,509.6v1.3 M497.1,509.6v1.3 M499.7,509.6v1.3 M501.9,509.6v1.3 M503.8,509.6v1.3 M505.5,509.6v1.3" stroke="#000" stroke-width="1.0" fill="none"/>
<path d="M375.0,508.5v4.0 M408.0,508.5v4.0 M441.0,508.5v4.0 M474.0,508.5v4.0 M507.0,508.5v4.0" stroke="#1a1a1a" stroke-width="1.1" fill="none"/>
<text x="382.3" y="517.1" class="sup" textLength="4.4" lengthAdjust="spacingAndGlyphs">0</text>
<text x="415.3" y="517.1" class="sup" textLength="4.4" lengthAdjust="spacingAndGlyphs">1</text>
<text x="448.3" y="517.1" class="sup" textLength="4.4" lengthAdjust="spacingAndGlyphs">2</text>
<text x="481.3" y="517.1" class="sup" textLength="4.4" lengthAdjust="spacingAndGlyphs">3</text>
<path d="M517.4,513.3l0.9,1.5l-0.9,1.8l-0.9,-1.8z" fill="#222" stroke="#222" stroke-width="0.5"/>
<path d="M372.00,515.10V522.80M372.30,515.40L370.00,517.10 M375.10,518.95a2.5,3.199999999999966 0 1,0 5.00,0a2.5,3.199999999999966 0 1,0 -5.00,0 M405.00,515.10V522.80M405.30,515.40L403.00,517.10 M408.10,518.95a2.5,3.199999999999966 0 1,0 5.00,0a2.5,3.199999999999966 0 1,0 -5.00,0 M438.00,515.10V522.80M438.30,515.40L436.00,517.10 M441.10,518.95a2.5,3.199999999999966 0 1,0 5.00,0a2.5,3.199999999999966 0 1,0 -5.00,0 M471.00,515.10V522.80M471.30,515.40L469.00,517.10 M474.10,518.95a2.5,3.199999999999966 0 1,0 5.00,0a2.5,3.199999999999966 0 1,0 -5.00,0 M504.00,515.10V522.80M504.30,515.40L502.00,517.10 M507.10,518.95a2.5,3.199999999999966 0 1,0 5.00,0a2.5,3.199999999999966 0 1,0 -5.00,0" stroke="#1a1a1a" stroke-width="1.4" fill="none"/>
<rect x="368.2" y="373.1" width="1.2" height="4.8" fill="#555"/>
<rect x="368.2" y="381.3" width="1.2" height="3" fill="#555"/>
<polyline points="378.4,506.4 381.1,503.1 383.8,497.7 386.5,492.3 389.2,485.6 391.2,477.5 393.2,469.4 394.5,462.7 395.9,456.0 397.2,449.9 399.2,447.9 400.6,443.8 401.9,438.5 404.0,437.1 406.0,442.5 408.0,445.2 409.6,434.4 411.4,439.8 413.4,443.2 415.4,446.5 416.1,451.2 417.4,453.3 419.4,453.3 420.8,456.0 422.8,458.6 425.5,460.7 428.2,462.7 430.2,464.0 432.2,468.1 434.2,474.8 435.6,480.2 437.6,486.9 439.3,494.0 441.0,500.4 443.0,504.4 445.7,506.4 448.0,507.5" fill="none" stroke="#000" stroke-width="2.9" stroke-linejoin="round"/>
<polyline points="377.0,507.1 381.1,501.7 383.8,496.3 386.5,489.6 389.2,481.5 391.8,473.5 394.5,468.1 396.6,462.7 398.6,461.3 400.6,458.6 402.6,462.0 404.6,460.7 406.6,456.6 408.7,462.0 410.7,458.6 412.0,452.6 413.4,455.3 415.4,460.0 417.4,464.0 418.8,450.6 420.8,453.9 422.8,451.9 424.8,442.5 426.8,451.9 428.9,449.2 430.9,445.2 432.2,451.9 433.6,458.6 434.9,468.1 436.9,476.1 438.9,483.5 441.0,490.5 443.7,497.7 447.1,503.1 450.4,505.8 453.8,507.0" fill="none" stroke="#8e8e8e" stroke-width="2.6" stroke-linejoin="round"/>
<line x1="64.5" y1="537.2" x2="64.5" y2="665.5" stroke="#1a1a1a" stroke-width="1.3"/>
<line x1="61.2" y1="537.7" x2="64.2" y2="537.7" stroke="#1a1a1a" stroke-width="1.2"/>
<line x1="61.2" y1="569.7" x2="64.2" y2="569.7" stroke="#1a1a1a" stroke-width="1.2"/>
<line x1="61.2" y1="601.6" x2="64.2" y2="601.6" stroke="#1a1a1a" stroke-width="1.2"/>
<line x1="61.2" y1="633.5" x2="64.2" y2="633.5" stroke="#1a1a1a" stroke-width="1.2"/>
<line x1="64.2" y1="665.5" x2="196.2" y2="665.5" stroke="#000" stroke-width="2.7"/>
<path d="M74.1,666.6v1.3 M79.9,666.6v1.3 M84.1,666.6v1.3 M87.3,666.6v1.3 M89.9,666.6v1.3 M92.1,666.6v1.3 M94.0,666.6v1.3 M95.7,666.6v1.3 M107.1,666.6v1.3 M112.9,666.6v1.3 M117.1,666.6v1.3 M120.3,666.6v1.3 M122.9,666.6v1.3 M125.1,666.6v1.3 M127.0,666.6v1.3 M128.7,666.6v1.3 M140.1,666.6v1.3 M145.9,666.6v1.3 M150.1,666.6v1.3 M153.3,666.6v1.3 M155.9,666.6v1.3 M158.1,666.6v1.3 M160.0,666.6v1.3 M161.7,666.6v1.3 M173.1,666.6v1.3 M178.9,666.6v1.3 M183.1,666.6v1.3 M186.3,666.6v1.3 M188.9,666.6v1.3 M191.1,666.6v1.3 M193.0,666.6v1.3 M194.7,666.6v1.3" stroke="#000" stroke-width="1.0" fill="none"/>
<path d="M64.2,665.5v4.0 M97.2,665.5v4.0 M130.2,665.5v4.0 M163.2,665.5v4.0 M196.2,665.5v4.0" stroke="#1a1a1a" stroke-width="1.1" fill="none"/>
<text x="71.5" y="674.1" class="sup" textLength="4.4" lengthAdjust="spacingAndGlyphs">0</text>
<text x="104.5" y="674.1" class="sup" textLength="4.4" lengthAdjust="spacingAndGlyphs">1</text>
<text x="137.5" y="674.1" class="sup" textLength="4.4" lengthAdjust="spacingAndGlyphs">2</text>
<text x="170.5" y="674.1" class="sup" textLength="4.4" lengthAdjust="spacingAndGlyphs">3</text>
<path d="M206.6,670.3l0.9,1.5l-0.9,1.8l-0.9,-1.8z" fill="#222" stroke="#222" stroke-width="0.5"/>
<path d="M61.20,672.10V679.80M61.50,672.40L59.20,674.10 M64.30,675.95a2.5,3.199999999999966 0 1,0 5.00,0a2.5,3.199999999999966 0 1,0 -5.00,0 M94.20,672.10V679.80M94.50,672.40L92.20,674.10 M97.30,675.95a2.5,3.199999999999966 0 1,0 5.00,0a2.5,3.199999999999966 0 1,0 -5.00,0 M127.20,672.10V679.80M127.50,672.40L125.20,674.10 M130.30,675.95a2.5,3.199999999999966 0 1,0 5.00,0a2.5,3.199999999999966 0 1,0 -5.00,0 M160.20,672.10V679.80M160.50,672.40L158.20,674.10 M163.30,675.95a2.5,3.199999999999966 0 1,0 5.00,0a2.5,3.199999999999966 0 1,0 -5.00,0 M193.20,672.10V679.80M193.50,672.40L191.20,674.10 M196.30,675.95a2.5,3.199999999999966 0 1,0 5.00,0a2.5,3.199999999999966 0 1,0 -5.00,0" stroke="#1a1a1a" stroke-width="1.4" fill="none"/>
<rect x="57.400000000000006" y="531.5" width="1.2" height="4.8" fill="#555"/>
<rect x="57.400000000000006" y="539.7" width="1.2" height="3" fill="#555"/>
<polyline points="66.0,665.5 70.1,664.1 73.4,660.8 74.8,661.4 75.5,655.4 77.5,652.7 79.5,650.0 81.5,647.3 83.5,643.9 85.6,643.3 87.6,641.9 89.6,639.9 91.6,637.9 93.0,641.9 95.0,645.9 97.7,647.3 100.4,645.3 103.0,641.9 105.7,637.9 108.4,635.2 110.5,633.8 112.5,629.8 113.8,624.4 115.8,619.0 117.9,612.3 119.2,605.6 121.2,596.2 122.6,590.8 124.6,596.2 126.6,590.1 128.0,589.4 129.3,594.8 130.7,604.2 132.7,608.3 135.4,608.9 136.7,613.6 137.4,619.0 138.1,625.8 140.1,629.8 141.5,633.8 142.8,640.6 144.2,647.3 145.5,654.0 148.2,659.4 151.6,663.4 155.0,664.5" fill="none" stroke="#000" stroke-width="2.9" stroke-linejoin="round"/>
<polyline points="66.0,665.5 70.1,660.8 72.8,655.4 74.8,650.0 76.8,641.9 78.8,636.5 80.8,631.1 82.2,623.1 84.2,620.4 86.2,615.0 87.6,611.6 88.9,617.0 90.9,615.7 93.0,612.3 95.0,615.7 97.0,620.4 99.0,617.7 100.4,613.6 102.4,624.4 103.7,616.3 105.7,615.7 107.8,613.6 109.8,612.3 111.8,606.9 113.1,604.2 114.5,611.0 115.8,605.6 117.2,608.9 118.5,616.3 120.5,620.4 122.6,625.8 123.9,631.1 125.9,637.9 127.9,642.6 130.7,648.6 134.1,656.7 138.1,662.1 141.5,664.1" fill="none" stroke="#8e8e8e" stroke-width="2.6" stroke-linejoin="round"/>
<line x1="222.5" y1="536.0" x2="222.5" y2="664.8" stroke="#1a1a1a" stroke-width="1.3"/>
<line x1="219.5" y1="536.5" x2="222.5" y2="536.5" stroke="#1a1a1a" stroke-width="1.2"/>
<line x1="219.5" y1="568.6" x2="222.5" y2="568.6" stroke="#1a1a1a" stroke-width="1.2"/>
<line x1="219.5" y1="600.6" x2="222.5" y2="600.6" stroke="#1a1a1a" stroke-width="1.2"/>
<line x1="219.5" y1="632.7" x2="222.5" y2="632.7" stroke="#1a1a1a" stroke-width="1.2"/>
<line x1="222.5" y1="664.8" x2="354.5" y2="664.8" stroke="#000" stroke-width="2.7"/>
<path d="M232.4,665.9v1.3 M238.2,665.9v1.3 M242.4,665.9v1.3 M245.6,665.9v1.3 M248.2,665.9v1.3 M250.4,665.9v1.3 M252.3,665.9v1.3 M254.0,665.9v1.3 M265.4,665.9v1.3 M271.2,665.9v1.3 M275.4,665.9v1.3 M278.6,665.9v1.3 M281.2,665.9v1.3 M283.4,665.9v1.3 M285.3,665.9v1.3 M287.0,665.9v1.3 M298.4,665.9v1.3 M304.2,665.9v1.3 M308.4,665.9v1.3 M311.6,665.9v1.3 M314.2,665.9v1.3 M316.4,665.9v1.3 M318.3,665.9v1.3 M320.0,665.9v1.3 M331.4,665.9v1.3 M337.2,665.9v1.3 M341.4,665.9v1.3 M344.6,665.9v1.3 M347.2,665.9v1.3 M349.4,665.9v1.3 M351.3,665.9v1.3 M353.0,665.9v1.3" stroke="#000" stroke-width="1.0" fill="none"/>
<path d="M222.5,664.8v4.0 M255.5,664.8v4.0 M288.5,664.8v4.0 M321.5,664.8v4.0 M354.5,664.8v4.0" stroke="#1a1a1a" stroke-width="1.1" fill="none"/>
<text x="229.8" y="673.4" class="sup" textLength="4.4" lengthAdjust="spacingAndGlyphs">0</text>
<text x="262.8" y="673.4" class="sup" textLength="4.4" lengthAdjust="spacingAndGlyphs">1</text>
<text x="295.8" y="673.4" class="sup" textLength="4.4" lengthAdjust="spacingAndGlyphs">2</text>
<text x="328.8" y="673.4" class="sup" textLength="4.4" lengthAdjust="spacingAndGlyphs">3</text>
<path d="M364.9,669.6l0.9,1.5l-0.9,1.8l-0.9,-1.8z" fill="#222" stroke="#222" stroke-width="0.5"/>
<path d="M219.50,671.40V679.10M219.80,671.70L217.50,673.40 M222.60,675.25a2.5,3.199999999999966 0 1,0 5.00,0a2.5,3.199999999999966 0 1,0 -5.00,0 M252.50,671.40V679.10M252.80,671.70L250.50,673.40 M255.60,675.25a2.5,3.199999999999966 0 1,0 5.00,0a2.5,3.199999999999966 0 1,0 -5.00,0 M285.50,671.40V679.10M285.80,671.70L283.50,673.40 M288.60,675.25a2.5,3.199999999999966 0 1,0 5.00,0a2.5,3.199999999999966 0 1,0 -5.00,0 M318.50,671.40V679.10M318.80,671.70L316.50,673.40 M321.60,675.25a2.5,3.199999999999966 0 1,0 5.00,0a2.5,3.199999999999966 0 1,0 -5.00,0 M351.50,671.40V679.10M351.80,671.70L349.50,673.40 M354.60,675.25a2.5,3.199999999999966 0 1,0 5.00,0a2.5,3.199999999999966 0 1,0 -5.00,0" stroke="#1a1a1a" stroke-width="1.4" fill="none"/>
<rect x="215.7" y="530.3" width="1.2" height="4.8" fill="#555"/>
<rect x="215.7" y="538.5" width="1.2" height="3" fill="#555"/>
<polyline points="222.5,656.5 223.0,657.4 224.4,660.8 226.4,662.1 229.1,656.7 231.1,651.3 233.1,646.0 235.2,639.2 237.2,632.5 239.2,625.8 240.5,619.0 241.2,612.3 242.6,608.3 243.9,612.3 245.2,616.3 247.3,611.0 249.3,606.9 251.3,608.9 253.3,613.6 255.3,615.7 257.4,615.0 259.4,611.0 261.4,612.3 263.4,615.7 266.1,612.3 268.1,611.0 270.1,615.7 272.2,618.4 274.2,615.0 276.2,611.6 277.5,608.9 278.9,615.0 280.2,621.7 281.6,631.1 282.9,637.9 284.9,640.6 287.0,644.6 289.0,648.6 290.4,648.6 293.1,655.4 295.8,659.4 298.5,662.1 302.5,663.5" fill="none" stroke="#000" stroke-width="2.9" stroke-linejoin="round"/>
<polyline points="225.7,663.4 228.4,659.4 231.1,654.0 233.8,646.0 236.5,636.5 238.5,628.5 240.5,620.4 243.2,617.7 245.9,615.0 248.6,612.3 250.6,613.6 252.6,619.0 254.7,615.0 256.7,619.0 258.7,613.6 260.7,625.8 262.1,616.3 264.1,613.6 266.1,615.0 268.1,611.0 270.1,603.6 272.2,612.3 274.2,604.2 276.2,603.6 277.5,613.6 279.6,620.4 281.6,624.4 282.9,623.1 284.3,629.8 285.6,636.5 287.6,643.3 289.0,647.3 291.7,655.4 295.1,660.1 298.5,662.6" fill="none" stroke="#8e8e8e" stroke-width="2.6" stroke-linejoin="round"/>
<line x1="375.5" y1="535.0" x2="375.5" y2="663.4" stroke="#1a1a1a" stroke-width="1.3"/>
<line x1="372.7" y1="535.5" x2="375.7" y2="535.5" stroke="#1a1a1a" stroke-width="1.2"/>
<line x1="372.7" y1="567.5" x2="375.7" y2="567.5" stroke="#1a1a1a" stroke-width="1.2"/>
<line x1="372.7" y1="599.5" x2="375.7" y2="599.5" stroke="#1a1a1a" stroke-width="1.2"/>
<line x1="372.7" y1="631.4" x2="375.7" y2="631.4" stroke="#1a1a1a" stroke-width="1.2"/>
<line x1="375.7" y1="663.4" x2="507.7" y2="663.4" stroke="#000" stroke-width="2.7"/>
<path d="M385.6,664.5v1.3 M391.4,664.5v1.3 M395.6,664.5v1.3 M398.8,664.5v1.3 M401.4,664.5v1.3 M403.6,664.5v1.3 M405.5,664.5v1.3 M407.2,664.5v1.3 M418.6,664.5v1.3 M424.4,664.5v1.3 M428.6,664.5v1.3 M431.8,664.5v1.3 M434.4,664.5v1.3 M436.6,664.5v1.3 M438.5,664.5v1.3 M440.2,664.5v1.3 M451.6,664.5v1.3 M457.4,664.5v1.3 M461.6,664.5v1.3 M464.8,664.5v1.3 M467.4,664.5v1.3 M469.6,664.5v1.3 M471.5,664.5v1.3 M473.2,664.5v1.3 M484.6,664.5v1.3 M490.4,664.5v1.3 M494.6,664.5v1.3 M497.8,664.5v1.3 M500.4,664.5v1.3 M502.6,664.5v1.3 M504.5,664.5v1.3 M506.2,664.5v1.3" stroke="#000" stroke-width="1.0" fill="none"/>
<path d="M375.7,663.4v4.0 M408.7,663.4v4.0 M441.7,663.4v4.0 M474.7,663.4v4.0 M507.7,663.4v4.0" stroke="#1a1a1a" stroke-width="1.1" fill="none"/>
<text x="383.0" y="672.0" class="sup" textLength="4.4" lengthAdjust="spacingAndGlyphs">0</text>
<text x="416.0" y="672.0" class="sup" textLength="4.4" lengthAdjust="spacingAndGlyphs">1</text>
<text x="449.0" y="672.0" class="sup" textLength="4.4" lengthAdjust="spacingAndGlyphs">2</text>
<text x="482.0" y="672.0" class="sup" textLength="4.4" lengthAdjust="spacingAndGlyphs">3</text>
<path d="M518.1,668.2l0.9,1.5l-0.9,1.8l-0.9,-1.8z" fill="#222" stroke="#222" stroke-width="0.5"/>
<path d="M372.70,670.00V677.70M373.00,670.30L370.70,672.00 M375.80,673.85a2.5,3.199999999999966 0 1,0 5.00,0a2.5,3.199999999999966 0 1,0 -5.00,0 M405.70,670.00V677.70M406.00,670.30L403.70,672.00 M408.80,673.85a2.5,3.199999999999966 0 1,0 5.00,0a2.5,3.199999999999966 0 1,0 -5.00,0 M438.70,670.00V677.70M439.00,670.30L436.70,672.00 M441.80,673.85a2.5,3.199999999999966 0 1,0 5.00,0a2.5,3.199999999999966 0 1,0 -5.00,0 M471.70,670.00V677.70M472.00,670.30L469.70,672.00 M474.80,673.85a2.5,3.199999999999966 0 1,0 5.00,0a2.5,3.199999999999966 0 1,0 -5.00,0 M504.70,670.00V677.70M505.00,670.30L502.70,672.00 M507.80,673.85a2.5,3.199999999999966 0 1,0 5.00,0a2.5,3.199999999999966 0 1,0 -5.00,0" stroke="#1a1a1a" stroke-width="1.4" fill="none"/>
<rect x="368.9" y="529.3" width="1.2" height="4.8" fill="#555"/>
<rect x="368.9" y="537.5" width="1.2" height="3" fill="#555"/>
<polyline points="377.7,662.8 381.1,657.4 383.8,651.3 386.5,644.6 389.2,636.5 391.8,627.1 393.9,619.0 395.2,612.3 397.2,606.9 398.6,598.8 399.9,593.5 401.9,593.5 404.0,600.2 406.0,594.8 408.0,593.5 409.3,600.2 410.7,593.5 412.0,597.5 413.4,604.2 415.4,609.6 417.4,612.3 419.4,613.6 420.1,621.7 422.1,619.0 424.1,616.3 426.8,616.3 429.5,615.0 430.9,619.0 432.2,624.4 434.2,631.1 436.3,636.5 438.3,641.9 440.3,648.6 441.5,652.0 443.0,659.4 445.7,661.8 448.0,662.5" fill="none" stroke="#000" stroke-width="2.9" stroke-linejoin="round"/>
<polyline points="378.4,662.1 381.1,656.7 384.4,648.6 387.1,641.9 389.8,633.8 391.8,625.8 394.5,619.0 397.2,616.3 399.2,611.6 401.3,617.7 403.3,609.6 405.3,612.3 407.3,616.3 409.3,615.0 411.4,613.6 413.4,620.4 415.4,615.0 417.4,613.0 419.4,611.6 421.5,613.0 423.5,604.2 424.8,612.3 426.2,606.9 428.2,601.5 429.5,606.9 430.9,615.0 432.9,617.7 434.2,620.4 435.6,621.7 436.9,631.1 438.9,637.9 441.0,643.3 442.0,646.0 445.1,653.4 448.4,658.1 451.8,661.0 455.2,662.4" fill="none" stroke="#8e8e8e" stroke-width="2.6" stroke-linejoin="round"/>
<text x="1.5" y="23" class="b" font-size="29">A</text>
<text x="-1" y="377" class="b" font-size="28.5">B</text>
<text x="103.5" y="18.6" class="b" font-size="20" textLength="64" lengthAdjust="spacingAndGlyphs">Lipid A</text>
<text x="254" y="17.6" class="g" font-size="19" textLength="11.5" lengthAdjust="spacingAndGlyphs">α</text>
<text x="266.5" y="17.6" class="b" font-size="19.5" textLength="57.5" lengthAdjust="spacingAndGlyphs">RP105</text>
<text x="421" y="14.5" class="g" font-size="19" textLength="11.5" lengthAdjust="spacingAndGlyphs">α</text>
<text x="433.5" y="14.5" class="b" font-size="19" textLength="32" lengthAdjust="spacingAndGlyphs">IgM</text>
<text x="8.3" y="83.7" class="b" font-size="19.6" textLength="39.6" lengthAdjust="spacingAndGlyphs">Wild</text>
<text x="8.3" y="106.9" class="b" font-size="19.6" textLength="38.8" lengthAdjust="spacingAndGlyphs">type</text>
<text x="4" y="230.2" class="b" font-size="19.6" textLength="44" lengthAdjust="spacingAndGlyphs">MD-1</text>
<text x="4" y="253.3" class="b" font-size="19.6" textLength="27" lengthAdjust="spacingAndGlyphs">KO</text>
<text x="7" y="440.2" class="b" font-size="19.6" textLength="39.6" lengthAdjust="spacingAndGlyphs">Wild</text>
<text x="7" y="463.6" class="b" font-size="19.6" textLength="38.8" lengthAdjust="spacingAndGlyphs">type</text>
<text x="1.6" y="595.6" class="b" font-size="19.6" textLength="44.5" lengthAdjust="spacingAndGlyphs">MD-1</text>
<text x="1.6" y="619" class="b" font-size="19.6" textLength="27" lengthAdjust="spacingAndGlyphs">KO</text>
<text x="262.6" y="337.9" class="b" font-size="22.4" textLength="47.6" lengthAdjust="spacingAndGlyphs">B7.2</text>
<text x="259" y="713.7" class="b" font-size="23.5" textLength="58.5" lengthAdjust="spacingAndGlyphs">CD23</text>
</svg></body></html>
